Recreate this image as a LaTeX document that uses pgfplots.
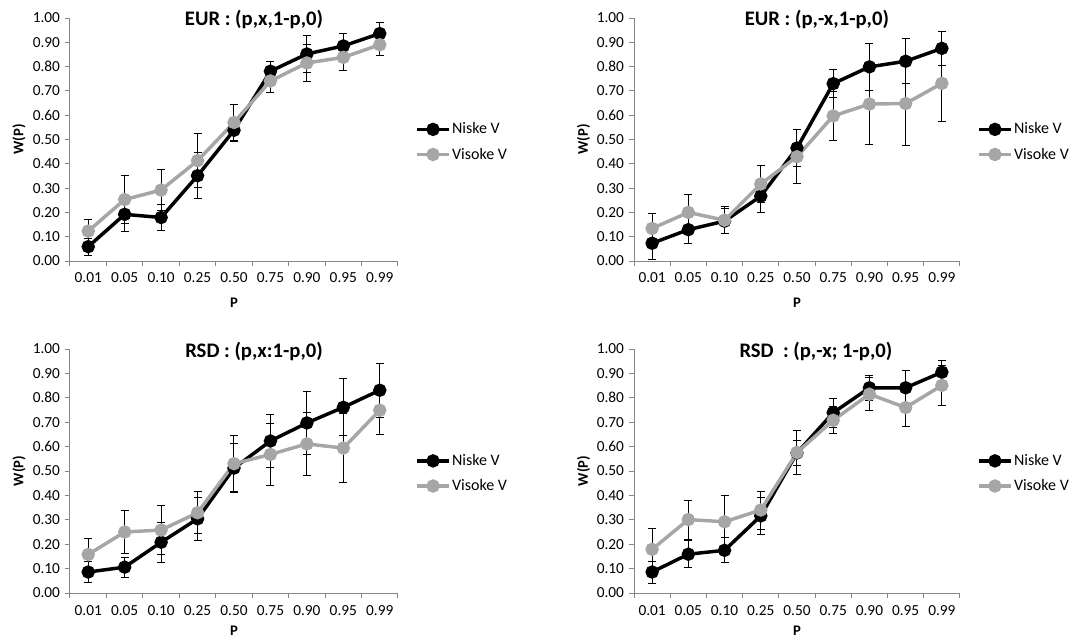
\documentclass[border=0pt]{standalone}
\usepackage{fontspec}
\setmainfont{Carlito}
\usepackage{pgfplots}
\usepackage{pgfplotstable}
\pgfplotsset{compat=1.18}
\definecolor{axgray}{RGB}{134,134,134}
\definecolor{visgray}{RGB}{166,166,166}

% columns: category index, Niske V mean, error, Visoke V mean, error
\pgfplotstableread{
x n ne v ve
0 0.059 0.035 0.123 0.048
1 0.192 0.072 0.253 0.097
2 0.179 0.054 0.292 0.085
3 0.351 0.095 0.413 0.112
4 0.538 0.048 0.570 0.075
5 0.781 0.038 0.741 0.049
6 0.852 0.076 0.815 0.075
7 0.885 0.052 0.838 0.054
8 0.936 0.044 0.890 0.046
}\tabA
\pgfplotstableread{
x n ne v ve
0 0.073 0.065 0.134 0.062
1 0.129 0.056 0.200 0.074
2 0.164 0.052 0.168 0.055
3 0.267 0.067 0.317 0.075
4 0.465 0.075 0.429 0.112
5 0.730 0.058 0.597 0.102
6 0.799 0.098 0.646 0.168
7 0.822 0.092 0.648 0.171
8 0.875 0.069 0.731 0.157
}\tabB
\pgfplotstableread{
x n ne v ve
0 0.086 0.044 0.158 0.064
1 0.106 0.041 0.250 0.088
2 0.208 0.083 0.258 0.100
3 0.304 0.088 0.329 0.086
4 0.512 0.100 0.530 0.116
5 0.623 0.107 0.568 0.127
6 0.697 0.130 0.611 0.129
7 0.761 0.117 0.594 0.140
8 0.831 0.110 0.749 0.100
}\tabC
\pgfplotstableread{
x n ne v ve
0 0.086 0.045 0.179 0.086
1 0.159 0.056 0.301 0.080
2 0.175 0.052 0.292 0.107
3 0.316 0.075 0.340 0.078
4 0.574 0.052 0.576 0.089
5 0.739 0.060 0.708 0.056
6 0.841 0.050 0.815 0.067
7 0.841 0.071 0.760 0.078
8 0.905 0.047 0.851 0.083
}\tabD

\pgfplotsset{
  panel/.style={
    scale only axis, width=246pt, height=182.25pt,
    xmin=-0.5, xmax=8.5, ymin=0, ymax=1,
    axis lines=left, axis line style={-, draw=axgray, line width=0.75pt},
    xtick={-0.5,0.5,1.5,2.5,3.5,4.5,5.5,6.5,7.5,8.5}, xticklabels={},
    extra x ticks={0,1,2,3,4,5,6,7,8},
    extra x tick labels={0.01,0.05,0.10,0.25,0.50,0.75,0.90,0.95,0.99},
    extra x tick style={major tick length=0pt},
    xticklabel style={yshift=-5.5pt},
    ytick={0,0.1,0.2,0.3,0.4,0.5,0.6,0.7,0.8,0.9,1},
    tick align=outside, major tick length=4pt,
    tick style={draw=axgray, line width=0.75pt},
    /pgf/number format/assume math mode=true,
    y tick label style={/pgf/number format/fixed, /pgf/number format/fixed zerofill, /pgf/number format/precision=2},
    tick label style={font=\fontsize{11.5}{13}\selectfont},
    xlabel={P}, ylabel={W(P)},
    label style={font=\fontsize{11}{13}\selectfont\bfseries},
    xlabel style={at={(axis description cs:0.5,-0.173)}, anchor=center},
    ylabel style={at={(axis description cs:-0.155,0.5)}, anchor=center},
    title style={font=\fontsize{15.5}{18}\selectfont\bfseries, anchor=base},
    legend style={at={(axis description cs:1.052,0.49)}, anchor=west, draw=none, fill=none,
      font=\fontsize{12}{14}\selectfont, row sep=5pt, inner sep=0pt,
      nodes={inner xsep=1pt}},
    legend cell align=left,
    legend image code/.code={\draw[mark repeat=2, mark phase=2] plot coordinates {(0pt,0pt) (12pt,0pt) (24pt,0pt)};},
    error bars/y dir=both, error bars/y explicit,
    error bars/error bar style={black, line width=0.75pt},
    error bars/error mark options={rotate=90, black, mark size=3pt, line width=0.75pt},
  },
  niske/.style={black, line width=2.6pt, mark=*, mark size=3.7pt, mark options={solid, fill=black}},
  visoke/.style={visgray, line width=2.6pt, mark=*, mark size=3.7pt, mark options={solid, fill=visgray}},
}

\begin{document}
\begin{tikzpicture}
\path[use as bounding box] (0,0) rectangle (812.25pt,-480pt);

\begin{axis}[panel, at={(52.5pt,-195.75pt)}, anchor=south west,
  title={EUR : (p,x,1-p,0)}, title style={at={(axis description cs:0.561,0.937)}}]
\addplot[niske] table[x=x, y=n, y error=ne] {\tabA};
\addplot[visoke] table[x=x, y=v, y error=ve] {\tabA};
\legend{Niske V, Visoke V}
\end{axis}

\begin{axis}[panel, at={(475.5pt,-195.75pt)}, anchor=south west, width=244.5pt,
  title={EUR : (p,-x,1-p,0)}, title style={at={(axis description cs:0.561,0.937)}}]
\addplot[niske] table[x=x, y=n, y error=ne] {\tabB};
\addplot[visoke] table[x=x, y=v, y error=ve] {\tabB};
\legend{Niske V, Visoke V}
\end{axis}

\begin{axis}[panel, at={(52.5pt,-444.75pt)}, anchor=south west, height=183pt,
  xlabel style={at={(axis description cs:0.5,-0.155)}},
  title={RSD : (p,x:1-p,0)}, title style={at={(axis description cs:0.561,0.934)}}]
\addplot[niske] table[x=x, y=n, y error=ne] {\tabC};
\addplot[visoke] table[x=x, y=v, y error=ve] {\tabC};
\legend{Niske V, Visoke V}
\end{axis}

\begin{axis}[panel, at={(475.5pt,-444.75pt)}, anchor=south west, width=244.5pt, height=183pt,
  xlabel style={at={(axis description cs:0.5,-0.155)}},
  title={RSD~ : (p,-x; 1-p,0)}, title style={at={(axis description cs:0.558,0.934)}}]
\addplot[niske] table[x=x, y=n, y error=ne] {\tabD};
\addplot[visoke] table[x=x, y=v, y error=ve] {\tabD};
\legend{Niske V, Visoke V}
\end{axis}
\end{tikzpicture}
\end{document}
